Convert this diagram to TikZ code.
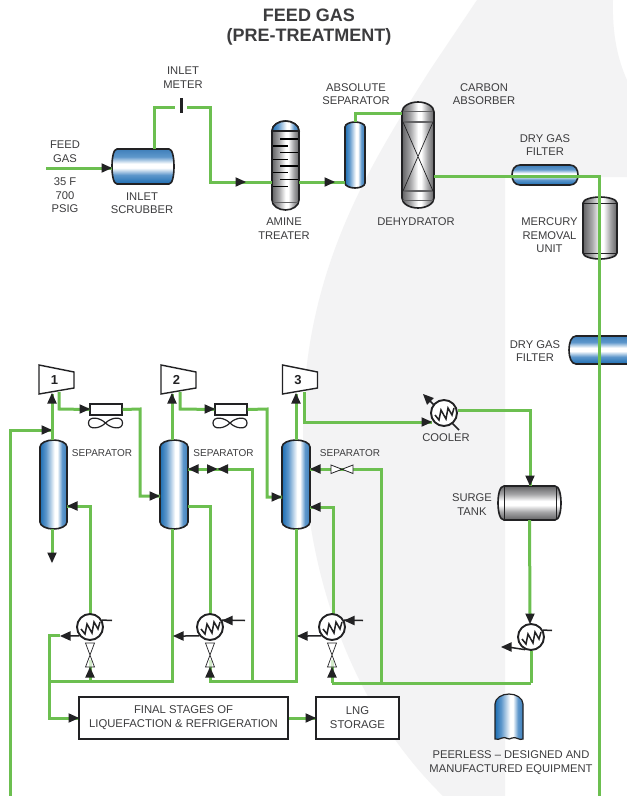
\documentclass[tikz,border=0pt]{standalone}
\usepackage{fontspec}
\setmainfont{Liberation Sans}
\usetikzlibrary{fit,calc}
\definecolor{pipegreen}{HTML}{6CBF50}
\definecolor{bggray}{HTML}{F3F3F4}
\definecolor{inkc}{HTML}{222224}
\definecolor{txtc}{HTML}{3C3C3E}
\definecolor{bd}{HTML}{1C6DB2}
\definecolor{bm}{HTML}{5E97CB}
\definecolor{be}{HTML}{3F7FBA}
\definecolor{gd}{HTML}{626264}
\definecolor{gm}{HTML}{A6A6A8}
\pgfdeclarehorizontalshading{bluev}{100bp}{color(0bp)=(bd);color(25bp)=(bd);color(36bp)=(bm);color(52bp)=(white);color(57bp)=(white);color(66bp)=(bm);color(75bp)=(be);color(100bp)=(be)}
\pgfdeclareverticalshading{blueh}{100bp}{color(0bp)=(bd);color(25bp)=(bd);color(38bp)=(bm);color(48bp)=(white);color(54bp)=(white);color(64bp)=(bm);color(75bp)=(be);color(100bp)=(be)}
\pgfdeclarehorizontalshading{grayv}{100bp}{color(0bp)=(gd);color(25bp)=(gd);color(38bp)=(gm);color(50bp)=(white);color(55bp)=(white);color(65bp)=(gm);color(75bp)=(gd);color(100bp)=(gd)}
\pgfdeclareverticalshading{grayh}{100bp}{color(0bp)=(gd);color(25bp)=(gd);color(37bp)=(gm);color(47bp)=(white);color(53bp)=(white);color(63bp)=(gm);color(75bp)=(gd);color(100bp)=(gd)}
\tikzset{
  pipe/.style={draw=pipegreen,line width=3pt,line join=miter},
  thinblk/.style={draw=inkc,line width=1.5pt},
  vess/.style={draw=inkc,line width=1.6pt},
  lbl/.style={text=txtc,align=center,inner sep=0pt,font=\fontsize{11.2}{13.6}\selectfont},
  lblsm/.style={text=txtc,align=center,inner sep=0pt,font=\fontsize{10}{12}\selectfont},
  ttl/.style={text=txtc,align=center,inner sep=0pt,font=\fontsize{18}{20}\selectfont\bfseries},
  num/.style={text=inkc,inner sep=0pt,font=\fontsize{13}{13}\selectfont\bfseries},
  hx/.style={circle,draw=inkc,fill=white,line width=1.9pt,minimum size=26pt,inner sep=0pt},
  procbox/.style={draw=inkc,fill=white,line width=1.3pt,text=txtc,align=center,inner sep=0pt,font=\fontsize{11.3}{14}\selectfont},
  region/.style={inner sep=0pt,outer sep=0pt}
}
\newcommand\VVess[7]{%
  \shadedraw[vess,shading=#7] (#2,{#3+#6}) .. controls (#2,{#3+.4*#6}) and ({#2+.25*(#4-#2)},#3) .. ({(#2+#4)/2},#3)
     .. controls ({#4-.25*(#4-#2)},#3) and (#4,{#3+.4*#6}) .. (#4,{#3+#6})
     -- (#4,{#5-#6}) .. controls (#4,{#5-.4*#6}) and ({#4-.25*(#4-#2)},#5) .. ({(#2+#4)/2},#5)
     .. controls ({#2+.25*(#4-#2)},#5) and (#2,{#5-.4*#6}) .. (#2,{#5-#6}) -- cycle;
  \node[region,fit={(#2,#3)(#4,#5)}] (#1) {};}
\newcommand\HVess[7]{%
  \shadedraw[vess,shading=#7] ({#2+#6},#3) -- ({#4-#6},#3) .. controls ({#4-.3*#6},#3) and (#4,{#3+.25*(#5-#3)}) .. (#4,{(#3+#5)/2})
     .. controls (#4,{#5-.25*(#5-#3)}) and ({#4-.3*#6},#5) .. ({#4-#6},#5) -- ({#2+#6},#5)
     .. controls ({#2+.3*#6},#5) and (#2,{#5-.25*(#5-#3)}) .. (#2,{(#3+#5)/2})
     .. controls (#2,{#3+.25*(#5-#3)}) and ({#2+.3*#6},#3) .. ({#2+#6},#3) -- cycle;
  \node[region,fit={(#2,#3)(#4,#5)}] (#1) {};}
\newcommand\Tip[3]{\fill[inkc,shift={(#1,#2)},rotate=#3] (0,0) -- (-10.5,-4.8) -- (-10.5,4.8) -- cycle;}
\newcommand\Zig[2]{\draw[draw=inkc,line width=1.5pt,line join=miter,shift={(#1,#2)}] (-9,2) -- (-5,7) -- (-3,-3) -- (2,6) -- (4,-5) -- (8,2) -- (10,-5);}
\newcommand\VValve[2]{\draw[draw=inkc,line width=.7pt,fill=white,fill opacity=.7,shift={(#1,#2)}] (-4.5,-12) -- (4.5,-12) -- (-4.5,12) -- (4.5,12) -- cycle;}
\newcommand\Fan[2]{\draw[draw=inkc,line width=1.2pt,shift={(#1,#2)}] (0,0) .. controls (-6,-6) and (-17,-7) .. (-17,0) .. controls (-17,7) and (-6,6) .. (0,0) .. controls (6,-6) and (17,-7) .. (17,0) .. controls (17,7) and (6,6) .. (0,0);}
\newcommand\Comp[2]{\draw[draw=inkc,fill=white,line width=1.4pt,shift={(#1,#2)},line join=miter] (0,0) -- (35,7) -- (35,23) -- (0,29) -- cycle;}
\begin{document}
\begin{tikzpicture}[x=1pt,y=-1pt]
\useasboundingbox (0,0) rectangle (627,796);
\fill[white] (0,0) rectangle (627,796);
\fill[bggray] (477,0) -- (613,0) .. controls (612,35) and (618,60) .. (627,80) -- (627,177) -- (505,177) -- (505,796) -- (443,796)
  .. controls (345,700) and (303,560) .. (303,430) .. controls (303,270) and (370,165) .. (430,70) -- cycle;

\node[ttl] (title) at (309,27) {FEED GAS\\(PRE-TREATMENT)};

\coordinate (feedin) at (46,168);
\coordinate (leftout) at (10,796);
\coordinate (mainout) at (599,796);

% top row vessels
\HVess{scrub}{112}{149}{174}{184}{5}{blueh}
\VVess{amine}{272}{121}{299}{210}{10}{grayv}
\VVess{abssep}{345}{122}{365}{188}{5}{bluev}
\VVess{dehy}{402}{102}{434}{208}{10}{grayv}
\HVess{filt1}{512}{165}{578}{185}{8}{blueh}
\VVess{merc}{583}{197}{617}{259}{6}{grayv}
\HVess{filt2}{569}{336}{645}{364}{7}{blueh}

\shadedraw[vess,shading=bluev] (272,131) .. controls (272,125) and (279,121) .. (285.5,121) .. controls (292,121) and (299,125) .. (299,131) -- cycle;
\draw[draw=gd,line width=1pt] (273,202) -- (298,202);
\foreach \yy in {139,152.7,166,179.7} \draw[draw=black,line width=1.5pt] (280,\yy) -- (298,\yy);
\foreach \yy in {146,159.3,172.7,186.7} \draw[draw=black,line width=1.5pt] (273,\yy) -- (288,\yy);
\draw[draw=gd,line width=.8pt] (403,111) -- (433,111) (403,200) -- (433,200);
\draw[draw=gd,line width=1.2pt] (403,122) -- (433,122) (403,191) -- (433,191);
\draw[draw=inkc,line width=.7pt] (403,122) -- (433,191) (433,122) -- (403,191);
\draw[draw=inkc,line width=.8pt] (584,203) -- (616,203) (584,253) -- (616,253);

% top row pipes
\draw[pipe] (feedin) -- (scrub.west |- feedin);
\Tip{112}{168}{0}
\coordinate (mL) at (175,107);
\coordinate (mR) at (187,107);
\draw[pipe] (154,149) -- (154,107) -- (mL);
\draw[pipe] (mR) -- (210,107) -- (210,182) -- (amine.west |- 0,182);
\Tip{246}{182}{0}
\node[region,fill=inkc,minimum width=3pt,minimum height=15pt] (meter) at (181,105.5) {};
\draw[pipe] (amine.east |- 0,182) -- (abssep.west |- 0,182);
\Tip{335}{182}{0}
\draw[pipe] (abssep.north) -- (abssep.north |- 0,113) -- (dehy.west |- 0,113);
\draw[pipe] (dehy.east |- 0,176) -- (599,176) -- (mainout);

% compressors
\Comp{39}{365}\node[num] (c1) at (54.5,380) {1};
\Comp{161}{365}\node[num] (c2) at (176.5,380) {2};
\Comp{282.5}{365}\node[num] (c3) at (298,380) {3};

% separators
\VVess{sepa}{40}{440}{67}{529}{7}{bluev}
\VVess{sepb}{160}{440}{188}{529}{7}{bluev}
\VVess{sepc}{282}{440}{310}{529}{7}{bluev}
\HVess{surge}{498}{486}{561}{520}{6}{grayh}
\draw[draw=inkc,line width=.9pt] (504,487) -- (504,519) (556,487) -- (556,519);

% fan coolers
\node[procbox,minimum width=32pt,minimum height=11pt] (fan1) at (106,409.5) {};
\node[procbox,minimum width=32pt,minimum height=11pt] (fan2) at (231,409.5) {};
\Fan{105.5}{423}
\Fan{230}{423}

% process boxes
\node[procbox,minimum width=209pt,minimum height=42pt] (final) at (183.5,718) {FINAL STAGES OF\\LIQUEFACTION \& REFRIGERATION};
\node[procbox,minimum width=83pt,minimum height=42pt] (lng) at (357.5,718) {LNG\\STORAGE};

% feed and compressor lines
\draw[pipe] (leftout) -- (10,430) -- (52,430);
\Tip{52}{430}{0}
\draw[pipe] (52,440) -- (52,394);
\Tip{52}{393}{90}
\draw[pipe] (52,529) -- (52,556);
\Tip{52}{563}{-90}
\draw[pipe] (59,392) -- (59,409) -- (fan1.west);
\Tip{90}{409}{0}
\draw[pipe] (fan1.east) -- (140,409) -- (140,496) -- (sepb.west |- 0,496);
\Tip{160}{496}{0}
\draw[pipe] (172,440) -- (172,394);
\Tip{172}{393}{90}
\draw[pipe] (180,392) -- (180,409) -- (fan2.west);
\Tip{215}{409}{0}
\draw[pipe] (fan2.east) -- (267,409) -- (267,497) -- (sepc.west |- 0,497);
\Tip{282}{497}{0}
\draw[pipe] (296,440) -- (296,394);
\Tip{296}{393}{90}
\draw[pipe] (304,392) -- (304,422) -- (432,422);

% separator side lines
\draw[pipe] (sepa.east |- 0,506) -- (90,506) -- (90,614);
\Tip{67}{506}{180}
\draw[pipe] (sepb.east |- 0,506) -- (210,506) -- (210,614);
\draw[pipe] (sepc.east |- 0,507) -- (333,507) -- (333,614);
\Tip{310}{507}{180}
\draw[pipe] (sepb.east |- 0,469) -- (252,469) -- (252,681);
\Tip{188}{469}{180}
\fill[inkc] (207,464.2) -- (217.5,469) -- (207,473.8) -- cycle;
\fill[inkc] (228,464.2) -- (217.5,469) -- (228,473.8) -- cycle;
\draw[pipe] (sepc.east |- 0,469) -- (381,469) -- (381,683);
\Tip{310}{469}{180}
\draw[draw=inkc,line width=.8pt,fill=white] (331,465) -- (331,473.5) -- (353,465) -- (353,473.5) -- cycle;

% bottom headers
\draw[pipe] (172,529) -- (172,681) -- (49,681);
\draw[pipe] (60,635) -- (49,635) -- (49,718) -- (final.west);
\Tip{79}{718}{0}
\draw[pipe] (296,529) -- (296,681) -- (209,681);
\draw[pipe] (210,681) -- (210,660);
\draw[pipe] (90,681) -- (90,660);
\draw[pipe] (332,683) -- (332,660);
\draw[pipe] (332,683) -- (531,683);
\draw[pipe] (final.east) -- (lng.west);
\Tip{316}{718}{0}

% heat exchangers
\foreach \nn/\xx in {hxa/90,hxb/210,hxc/332}{
  \VValve{\xx}{655}
  \Tip{\xx}{667}{90}
  \node[hx] (\nn) at (\xx,627) {};
  \Zig{\xx}{627}
}
\draw[thinblk] (hxa.30) -- (112,620.5);
\draw[thinblk] (hxa.-140) -- (66,636);
\Tip{60}{636}{180}
\draw[thinblk] (hxb.30) -- (245,620.5);
\Tip{222}{620.5}{180}
\draw[thinblk] (hxb.-140) -- (180,636);
\Tip{173}{636}{180}
\draw[thinblk] (hxc.30) -- (363,620.5);
\Tip{344}{620.5}{180}
\draw[thinblk] (hxc.-140) -- (303,636);
\Tip{297}{636}{180}

% cooler
\draw[thinblk] (459,430) -- (426,397);
\Tip{423}{394}{135}
\Tip{432}{422}{0}
\node[hx] (hxd) at (444,413) {};
\Zig{444}{413}
\draw[pipe] (hxd.east |- 0,410) -- (530,410) -- (530,486);
\Tip{530}{486}{-90}

% surge outlet and last exchanger
\draw[pipe] (surge.south) -- (530,614);
\Tip{530}{624}{-90}
\node[hx] (hxe) at (531,637) {};
\Zig{531}{637}
\draw[thinblk] (hxe.30) -- (552,630.5);
\draw[thinblk] (hxe.-115) -- (508,647);
\Tip{501}{647}{180}
\draw[pipe] (hxe.south) -- (hxe.south |- 0,683);

% peerless sample vessel
\shadedraw[vess,line width=1.2pt,shading=bluev] (495,704) .. controls (495,698) and (502,694) .. (509,694) .. controls (516,694) and (523,698) .. (523,704) -- (523,739)
  .. controls (519,741) and (516,736) .. (512,738) .. controls (508,741) and (506,736) .. (502,738) .. controls (500,739) and (497,740) .. (495,739) -- cycle;

% labels
\node[lbl] (l1) at (65,151.5) {FEED\\GAS};
\node[lbl] (l2) at (65,195.5) {35 F\\700\\PSIG};
\node[lbl] (l3) at (183,77.5) {INLET\\METER};
\node[lbl] (l4) at (142,203) {INLET\\SCRUBBER};
\node[lbl] (l5) at (284,228.5) {AMINE\\TREATER};
\node[lbl] (l6) at (356,94) {ABSOLUTE\\SEPARATOR};
\node[lbl] (l7) at (484,94) {CARBON\\ABSORBER};
\node[lbl] (l8) at (416,222) {DEHYDRATOR};
\node[lbl] (l9) at (545,145) {DRY GAS\\FILTER};
\node[lbl] (l10) at (549.5,235.5) {MERCURY\\REMOVAL\\UNIT};
\node[lbl] (l11) at (535,351) {DRY GAS\\FILTER};
\node[lblsm] (l12) at (102,453) {SEPARATOR};
\node[lblsm] (l13) at (223.5,453) {SEPARATOR};
\node[lblsm] (l14) at (350,453) {SEPARATOR};
\node[lbl] (l15) at (446,438) {COOLER};
\node[lbl] (l16) at (472,504.5) {SURGE\\TANK};
\node[lbl] (l17) at (511,762.5) {PEERLESS -- DESIGNED AND\\MANUFACTURED EQUIPMENT};
\end{tikzpicture}
\end{document}
